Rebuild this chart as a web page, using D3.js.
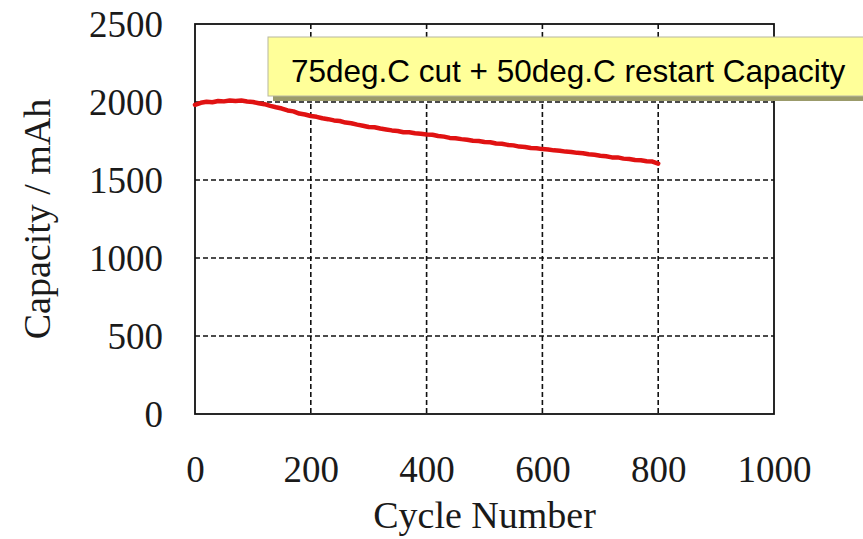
<!DOCTYPE html>
<html>
<head>
<meta charset="utf-8">
<script src="https://cdn.jsdelivr.net/npm/d3@7"></script>
<style>
  html, body { margin: 0; padding: 0; background: #fff; }
  svg { display: block; }
</style>
</head>
<body>
<svg id="chart" width="863" height="539"></svg>
<script>
// ---- data ----
const cycles = [0,10,20,30,40,50,60,70,80,90,100,110,120,130,140,150,160,170,180,190,
  200,210,220,230,240,250,260,270,280,290,300,310,320,330,340,350,360,370,380,390,
  400,410,420,430,440,450,460,470,480,490,500,510,520,530,540,550,560,570,580,590,
  600,610,620,630,640,650,660,670,680,690,700,710,720,730,740,750,760,770,780,790,800];
const capacity = [1982,1995,2002,1998,2006,2004,2010,2006,2009,2003,2000,1992,1986,1975,1966,1958,1946,1940,1926,1920,
  1910,1905,1896,1890,1882,1878,1868,1864,1855,1848,1840,1838,1830,1824,1818,1814,1806,1806,1800,1797,
  1792,1790,1782,1778,1770,1768,1762,1758,1752,1750,1744,1742,1734,1732,1725,1722,1714,1712,1705,1704,
  1698,1696,1690,1688,1682,1680,1674,1672,1665,1662,1656,1652,1645,1645,1637,1634,1628,1626,1620,1618,1605];
const xTicks = [0, 200, 400, 600, 800, 1000];
const yTicks = [0, 500, 1000, 1500, 2000, 2500];
const xTitle = "Cycle Number";
const yTitle = "Capacity / mAh";
const noteText = "75deg.C cut + 50deg.C restart Capacity";

// ---- layout ----
const svg = d3.select("#chart");
const L = 195, R = 774, T = 24, B = 414;
const x = d3.scaleLinear().domain([0, 1000]).range([L, R]);
const y = d3.scaleLinear().domain([0, 2500]).range([B, T]);
const serif = "'Liberation Serif', 'Times New Roman', serif";

// gridlines
const grid = svg.append("g").attr("stroke", "#111").attr("stroke-width", 1.6)
  .attr("stroke-dasharray", "5,3");
grid.selectAll("line.v").data(xTicks.filter(d => d > 0 && d < 1000)).join("line")
  .attr("x1", d => x(d)).attr("x2", d => x(d)).attr("y1", T).attr("y2", B);
grid.selectAll("line.h").data(yTicks.filter(d => d > 0 && d < 2500)).join("line")
  .attr("x1", L).attr("x2", R).attr("y1", d => y(d)).attr("y2", d => y(d));

// axes (ticks labels via d3 axes)
const xAxis = svg.append("g").attr("transform", `translate(0,${B})`)
  .call(d3.axisBottom(x).tickValues(xTicks).tickSize(0).tickPadding(42).tickFormat(d3.format("d")));
const yAxis = svg.append("g").attr("transform", `translate(${L},0)`)
  .call(d3.axisLeft(y).tickValues(yTicks).tickSize(0).tickPadding(32).tickFormat(d3.format("d")));
[xAxis, yAxis].forEach(a => {
  a.select(".domain").remove();
  a.selectAll("text").attr("font-family", serif).attr("font-size", 37).attr("fill", "#1a1a1a");
});
yAxis.selectAll("text").attr("dy", "0.34em");
xAxis.selectAll("text").attr("dy", "0.71em");

// frame
svg.append("rect").attr("x", L).attr("y", T).attr("width", R - L).attr("height", B - T)
  .attr("fill", "none").attr("stroke", "#111").attr("stroke-width", 1.8);

// data line
const line = d3.line().x((d, i) => x(cycles[i])).y(d => y(d));
svg.append("path").datum(capacity).attr("d", line)
  .attr("fill", "none").attr("stroke", "#e01212").attr("stroke-width", 4.5)
  .attr("stroke-linejoin", "round").attr("stroke-linecap", "round");

// titles
svg.append("text").attr("x", (L + R) / 2).attr("y", 528).attr("text-anchor", "middle")
  .attr("font-family", serif).attr("font-size", 38).attr("fill", "#1a1a1a").text(xTitle);
svg.append("text").attr("transform", `translate(50,${(T + B) / 2}) rotate(-90)`)
  .attr("text-anchor", "middle").attr("font-family", serif).attr("font-size", 38)
  .attr("fill", "#1a1a1a").text(yTitle);

// annotation box
const bx = 268, by = 37, bw = 610, bh = 59;
svg.append("rect").attr("x", bx + 5).attr("y", by + 5).attr("width", bw).attr("height", bh)
  .attr("fill", "#9b9b6b");
svg.append("rect").attr("x", bx).attr("y", by).attr("width", bw).attr("height", bh)
  .attr("fill", "#ffff99").attr("stroke", "#b8b8a0").attr("stroke-width", 1);
svg.append("text").attr("x", 291).attr("y", 82)
  .attr("font-family", "'Liberation Sans', Arial, sans-serif").attr("font-size", 31.5)
  .attr("fill", "#000").text(noteText);
</script>
</body>
</html>
